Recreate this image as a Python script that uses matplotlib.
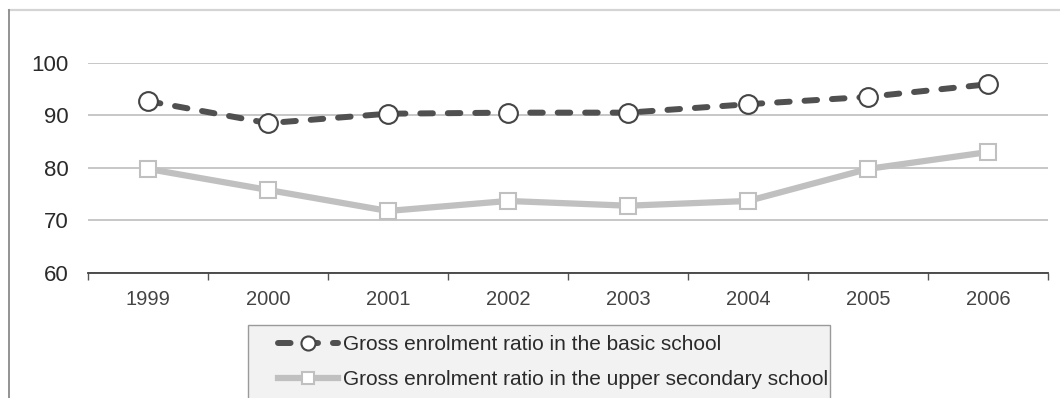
import matplotlib
matplotlib.use("Agg")
import matplotlib.pyplot as plt
from matplotlib.lines import Line2D
from matplotlib.patches import Rectangle

plt.rcParams['font.family'] = ['Liberation Sans', 'DejaVu Sans']

# enrolment ratios, 1999-2006
years = ['1999', '2000', '2001', '2002', '2003', '2004', '2005', '2006']
basic = [92.7, 88.5, 90.3, 90.5, 90.5, 92.1, 93.5, 95.9]
upper_secondary = [79.8, 75.8, 71.8, 73.7, 72.8, 73.7, 79.8, 83.0]
y_ticks = [60, 70, 80, 90, 100]

W, H = 1060, 398
fig = plt.figure(figsize=(W / 100, H / 100), dpi=100)

# outer frame: light top edge, darker left edge
fig.add_artist(Line2D([9 / W, 1], [1 - 10 / H, 1 - 10 / H], transform=fig.transFigure,
                      color='#d4d4d4', lw=1.6))
fig.add_artist(Line2D([9 / W, 9 / W], [0, 1 - 10 / H], transform=fig.transFigure,
                      color='#8a8a8a', lw=1.3))

ax = fig.add_axes([88 / W, 1 - 273 / H, (1048 - 88) / W, (273 - 62.7) / H])
x = list(range(len(years)))

ax.plot(x, upper_secondary, color='#c0c0c0', lw=4.5, marker='s', markersize=12,
        markerfacecolor='white', markeredgecolor='#c0c0c0', markeredgewidth=1.5,
        solid_joinstyle='round', clip_on=False, zorder=3,
        label='Gross enrolment ratio in the upper secondary school')
basic_line, = ax.plot(x, basic, color='#505050', lw=4.3, marker='o', markersize=13.5,
                      markerfacecolor='white', markeredgecolor='#444444',
                      markeredgewidth=1.5, dash_capstyle='round', clip_on=False,
                      zorder=4, label='Gross enrolment ratio in the basic school')
basic_line.set_dashes((2.1, 2.5))

ax.set_xlim(-0.5, len(years) - 0.5)
ax.set_ylim(60, 100)
ax.set_yticks(y_ticks)
ax.set_yticklabels([str(v) for v in y_ticks])
ax.grid(axis='y', color='#bdbdbd', lw=1.2)
ax.set_axisbelow(True)

# category boundaries carry the tick marks, labels sit between them
ax.set_xticks([i - 0.5 for i in range(len(years) + 1)])
ax.set_xticklabels([])
ax.set_xticks(x, minor=True)
ax.set_xticklabels(years, minor=True)
ax.tick_params(axis='x', which='major', length=5, width=1, color='#555555', direction='out')
ax.tick_params(axis='x', which='minor', length=0, pad=12.5, labelsize=14.5, labelcolor='#444444')
ax.tick_params(axis='y', length=0, pad=14, labelsize=16, labelcolor='#2a2a2a')

for side in ['top', 'right', 'left']:
    ax.spines[side].set_visible(False)
ax.spines['bottom'].set_color('#404040')
ax.spines['bottom'].set_linewidth(1.3)
ax.spines['bottom'].set_zorder(5)

# legend box runs off the bottom edge
fig.add_artist(Rectangle((248 / W, -0.05), (830 - 248) / W, 0.05 + (398 - 325) / H,
                         transform=fig.transFigure, facecolor='#f2f2f2',
                         edgecolor='#9a9a9a', lw=1.0, zorder=1))
handles = [basic_line, ax.get_lines()[0]]
leg = fig.legend(handles, [h.get_label() for h in handles], loc='upper left',
                 bbox_to_anchor=(278 / W, 1 - 335 / H), frameon=False, fontsize=15,
                 handlelength=2.9, handletextpad=0.2, labelspacing=0.78,
                 markerscale=0.75, borderaxespad=0, borderpad=0)
leg.set_zorder(2)
for t in leg.get_texts():
    t.set_color('#2a2a2a')

fig.savefig('out.png', dpi=100)
